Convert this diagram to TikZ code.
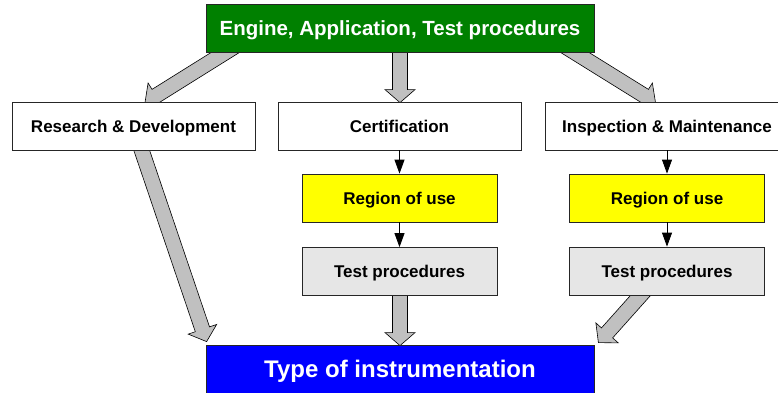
\documentclass[tikz,border=0pt]{standalone}
\usepackage{fontspec}
\setmainfont{Liberation Sans}
\usetikzlibrary{calc,arrows.meta,backgrounds}

\definecolor{hdrgreen}{RGB}{0,128,0}
\definecolor{outblue}{RGB}{0,0,255}
\definecolor{useyellow}{RGB}{255,255,0}
\definecolor{procgray}{RGB}{230,230,230}
\definecolor{arrowgray}{RGB}{192,192,192}

\tikzset{
  x=1pt, y=-1pt,
  flowbox/.style={draw=black!85, line width=0.8pt, fill=white,
    minimum width=243pt, minimum height=48pt, inner sep=0pt,
    text height=12.2pt, text depth=0pt,
    font=\fontsize{17pt}{20pt}\selectfont\bfseries, text=black},
  smallbox/.style={flowbox, minimum width=195pt},
  regionbox/.style={smallbox, fill=useyellow},
  procbox/.style={smallbox, fill=procgray},
  hdrbox/.style={flowbox, minimum width=388pt, fill=hdrgreen, text=white,
    text height=14.7pt, text depth=0pt,
    font=\fontsize{20.5pt}{24pt}\selectfont\bfseries},
  resultbox/.style={flowbox, minimum width=388pt, fill=outblue, text=white,
    text height=17.2pt, text depth=0pt,
    font=\fontsize{24pt}{28pt}\selectfont\bfseries},
  thinarrow/.style={draw=black, line width=0.8pt,
    -{Triangle[length=14pt,width=10pt]}},
  bigarrow/.style={fill=arrowgray, draw=black, line width=0.6pt, line join=miter},
}

% Broad grey block arrow from #1 to #2 (shaft 15pt wide, head 30pt wide, 13pt long)
\newcommand\blockarrow[2]{%
  \coordinate (ba-h) at ($(#2)!13pt!(#1)$);
  \draw[bigarrow]
    ($(#1)!7.5pt!90:(#2)$) -- ($(ba-h)!7.5pt!90:(#2)$) -- ($(ba-h)!15pt!90:(#2)$)
    -- (#2)
    -- ($(ba-h)!15pt!-90:(#2)$) -- ($(ba-h)!7.5pt!-90:(#2)$) -- ($(#1)!7.5pt!-90:(#2)$)
    -- cycle;
}

\begin{document}
\begin{tikzpicture}
  \useasboundingbox (0,0) rectangle (778,392);

  % top level
  \node[hdrbox] (top) at (400,28) {Engine, Application, Test procedures};

  % second level
  \node[flowbox] (rd)   at (133.5,126) {Research \& Development};
  \node[flowbox] (cert) at (399.5,126) {Certification};
  \node[flowbox] (insp) at (667,126)   {Inspection \& Maintenance};

  % certification column
  \node[regionbox] (certreg) at (399.5,198) {Region of use};
  \node[procbox]   (certtp)  at (399.5,271.5) {Test procedures};

  % inspection column
  \node[regionbox] (inspreg) at (667,198) {Region of use};
  \node[procbox]   (insptp)  at (667,271)  {Test procedures};

  % result
  \node[resultbox] (res) at (400,369) {Type of instrumentation};

  % thin arrows inside the columns
  \draw[thinarrow] (cert.south) -- (certreg.north);
  \draw[thinarrow] (certreg.south) -- (certtp.north);
  \draw[thinarrow] (insp.south) -- (inspreg.north);
  \draw[thinarrow] (inspreg.south) -- (insptp.north);

  % end points of the broad arrows
  \coordinate (a1s) at ($(top.south west)+(39,-12)$);
  \coordinate (a1e) at ($(rd.north)+(11.5,1)$);
  \coordinate (a2s) at ($(top.south)+(0,-10)$);
  \coordinate (a2e) at ($(top.south |- cert.north)+(0,1)$);
  \coordinate (a3s) at ($(top.south east)+(-39,-12)$);
  \coordinate (a3e) at ($(insp.north)+(-11.5,1)$);
  \coordinate (a4s) at ($(rd.south)+(5.5,-8)$);
  \coordinate (a4e) at ($(res.north west)+(1,-3)$);
  \coordinate (a5s) at ($(certtp.south)+(0.5,-5)$);
  \coordinate (a5e) at ($(certtp.south |- res.north)+(0.5,1)$);
  \coordinate (a6s) at ($(insptp.south)+(-22,-5)$);
  \coordinate (a6e) at ($(res.north east)+(4,-2)$);

  \begin{pgfonlayer}{background}
    \fill[white] (0,0) rectangle (778,392);
    \blockarrow{a1s}{a1e}
    \blockarrow{a2s}{a2e}
    \blockarrow{a3s}{a3e}
    \blockarrow{a4s}{a4e}
    \blockarrow{a5s}{a5e}
    \blockarrow{a6s}{a6e}
  \end{pgfonlayer}
\end{tikzpicture}
\end{document}
